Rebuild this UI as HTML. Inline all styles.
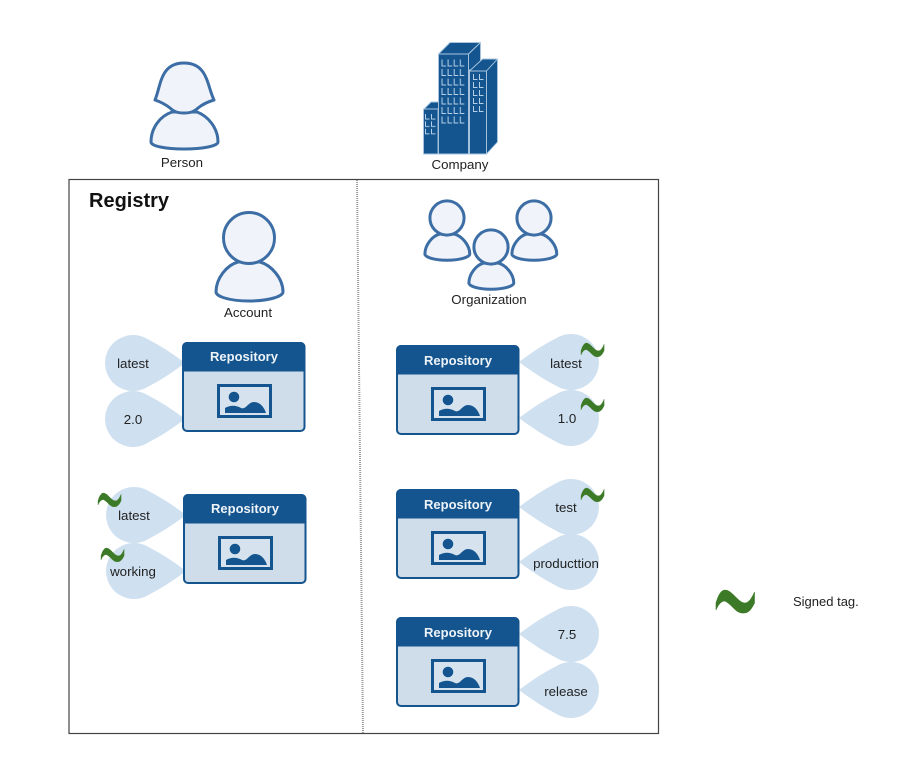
<!DOCTYPE html>
<html lang="en">
<head>
<meta charset="utf-8">
<title>Registry diagram</title>
<style>
html,body{margin:0;padding:0;background:#fff;width:924px;height:760px;overflow:hidden}
svg{display:block}
text{font-family:"Liberation Sans",sans-serif;font-size:13.3px;fill:#222;text-anchor:middle}
.rt{font-size:13px;font-weight:bold;fill:#eef3f8}
</style>
</head>
<body>
<svg width="924" height="760" viewBox="0 0 924 760" xmlns="http://www.w3.org/2000/svg">
<defs>
  <g id="repo">
    <rect x="1" y="1" width="121.5" height="88" rx="4" fill="#cfdcea" stroke="#14558f" stroke-width="2"/>
    <path d="M0 29.5V5a5 5 0 0 1 5-5H118.500a5 5 0 0 1 5 5V29.500Z" fill="#14558f"/>
    <rect x="36.500" y="43.500" width="52" height="31" fill="#d6e3ef" stroke="#14558f" stroke-width="3"/>
    <circle cx="52" cy="55" r="5.300" fill="#14558f"/>
    <path d="M43 71V66C48 63 54 63 59 66C64 68 66 60 72 60C78 60 82 65 84 71Z" fill="#14558f"/>
  </g>
  <path id="dropL" d="M52 0Q33 -14.500 15.100 -23.600A28 28 0 1 0 15.100 23.600Q33 14.500 52 0Z" fill="#cfe0f0"/>
  <path id="dropR" d="M-52 0Q-33 -14.500 -15.100 -23.600A28 28 0 1 1 -15.100 23.600Q-33 14.500 -52 0Z" fill="#cfe0f0"/>
  <path id="tilde" d="M0 13C2 6 5 0 9 0C16 0 22 13 29 13C33 13 36 8 38.500 2V13C36 18 33 23 28 23C20 24 17 15 9 11C5 11 2 15 0 20Z" fill="#3d7a28" stroke="#3d7a28" stroke-width=".6"/>
  <g id="user" fill="#f0f3f9" stroke="#3c6ea5">
    <path d="M-11 24C-22 27 -33 40 -33 54C-33 58 -21 63 0 63C21 63 34 58 34 54C34 40 22 27 11 24Z" vector-effect="non-scaling-stroke" stroke-width="3" stroke-linejoin="round"/>
    <circle cx="0" cy="0" r="25.500" vector-effect="non-scaling-stroke" stroke-width="3"/>
  </g>
  <pattern id="wm" x="441" y="58.500" width="6.100" height="9.500" patternUnits="userSpaceOnUse">
    <path d="M1 1V7.500H5" fill="none" stroke="#b4cfe6" stroke-width="1"/>
  </pattern>
  <pattern id="wr" x="472.500" y="73" width="6" height="8" patternUnits="userSpaceOnUse">
    <path d="M1 1V6.500H5" fill="none" stroke="#b4cfe6" stroke-width="1"/>
  </pattern>
  <pattern id="wl" x="424.500" y="113" width="6" height="7.400" patternUnits="userSpaceOnUse">
    <path d="M1 1V6H5" fill="none" stroke="#b4cfe6" stroke-width="1"/>
  </pattern>
</defs>

<!-- Person -->
<path d="M172 112C160 116 151 128 151 142C151 146 165 149 184 149C203 149 218 146 218 142C218 128 208 116 197 112Z" fill="#f0f3f9" stroke="#3c6ea5" stroke-width="3" stroke-linejoin="round"/>
<path d="M155 100C161 86 160 63 184 63C208 63 207 86 214 100C207 102 203 104 198 108C194 112 190 113 184 113C178 113 174 112 170 108C165 104 161 102 155 100Z" fill="#f0f3f9" stroke="#3c6ea5" stroke-width="3" stroke-linejoin="round"/>
<text x="182" y="167">Person</text>

<!-- Company -->
<g fill="#14558f" stroke="#a9c6e0" stroke-width=".9" stroke-linejoin="round">
  <path d="M438.500 54L450 42.500H480.500L468.500 54Z"/>
  <path d="M468.500 54L480.500 42.500V70H468.500Z"/>
  <path d="M438.500 154V54H468.500V154Z"/>
  <path d="M424 109L431 102H438.500V109Z"/>
  <path d="M423.500 154V109H438V154Z"/>
  <path d="M469.500 71L482.500 59H497.500L486.500 71Z"/>
  <path d="M486.500 71L497.500 59V142L486.500 154Z"/>
  <path d="M469.500 154V71H486.500V154Z"/>
</g>
<rect x="441" y="58.500" width="24.400" height="66.500" fill="url(#wm)"/>
<rect x="472.500" y="73" width="12" height="40" fill="url(#wr)"/>
<rect x="424.500" y="113" width="12" height="22.200" fill="url(#wl)"/>
<text x="460" y="169">Company</text>

<!-- Frame -->
<rect x="69" y="179.500" width="589.500" height="554" fill="#fff" stroke="#444" stroke-width="1.200"/>
<path d="M357 180L363 733" stroke="#999" stroke-width="2" stroke-dasharray="1 1" fill="none"/>
<text x="89" y="207" style="font-size:20px;font-weight:bold;text-anchor:start;fill:#111">Registry</text>

<!-- Account -->
<use href="#user" x="249" y="238"/>
<text x="248" y="317">Account</text>

<!-- Organization -->
<use href="#user" transform="translate(447 218) scale(.67)"/>
<use href="#user" transform="translate(534 218) scale(.67)"/>
<use href="#user" transform="translate(491 247) scale(.67)"/>
<text x="489" y="304">Organization</text>

<!-- Drops -->
<use href="#dropL" x="133" y="363"/>
<use href="#dropL" x="133" y="419"/>
<use href="#dropL" x="134" y="515"/>
<use href="#dropL" x="134" y="571"/>
<use href="#dropR" x="571" y="362"/>
<use href="#dropR" x="571" y="418"/>
<use href="#dropR" x="571" y="507"/>
<use href="#dropR" x="571" y="562"/>
<use href="#dropR" x="571" y="634"/>
<use href="#dropR" x="571" y="690"/>

<!-- Repositories -->
<use href="#repo" x="182" y="342"/>
<use href="#repo" x="183" y="494"/>
<use href="#repo" x="396" y="345"/>
<use href="#repo" x="396" y="489"/>
<use href="#repo" x="396" y="617"/>
<text class="rt" x="244" y="361">Repository</text>
<text class="rt" x="245" y="513">Repository</text>
<text class="rt" x="458" y="365">Repository</text>
<text class="rt" x="458" y="509">Repository</text>
<text class="rt" x="458" y="637">Repository</text>

<!-- Tag labels -->
<text x="133" y="368">latest</text>
<text x="133" y="424">2.0</text>
<text x="134" y="520">latest</text>
<text x="133" y="576">working</text>
<text x="566" y="368">latest</text>
<text x="567" y="423">1.0</text>
<text x="566" y="512">test</text>
<text x="566" y="568">producttion</text>
<text x="567" y="639">7.5</text>
<text x="566" y="696">release</text>

<!-- Signed marks -->
<use href="#tilde" transform="translate(581 343) scale(.6)"/>
<use href="#tilde" transform="translate(581 398) scale(.6)"/>
<use href="#tilde" transform="translate(581 488) scale(.6)"/>
<use href="#tilde" transform="translate(98 493) scale(.6)"/>
<use href="#tilde" transform="translate(101 548) scale(.6)"/>

<!-- Legend -->
<use href="#tilde" x="716" y="590"/>
<text x="793" y="606" style="text-anchor:start;font-size:13px">Signed tag.</text>
</svg>
</body>
</html>
